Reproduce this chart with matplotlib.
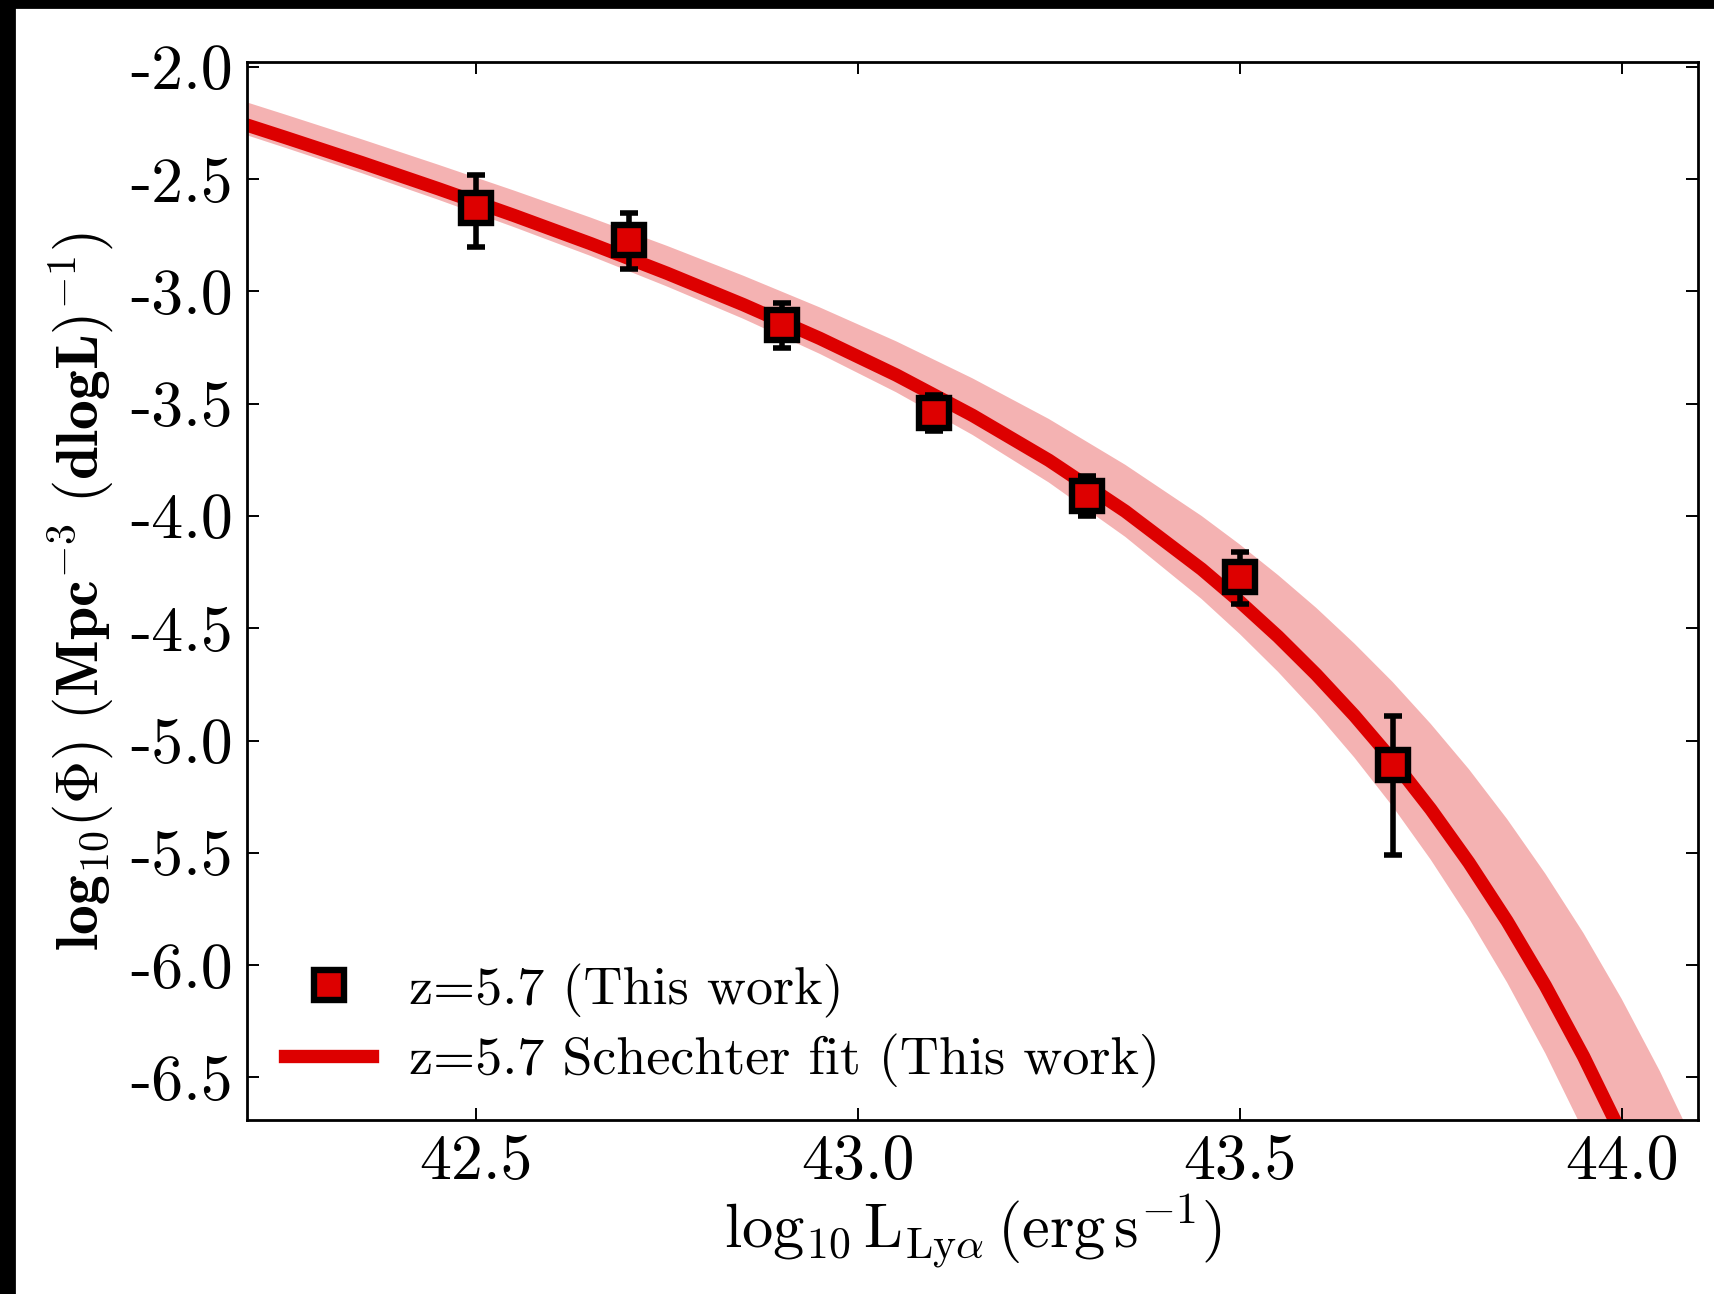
import numpy as np
import matplotlib
matplotlib.use('Agg')
import matplotlib.pyplot as plt
from matplotlib.patches import Rectangle

plt.rcParams['font.family'] = 'serif'
plt.rcParams['font.serif'] = ['cmr10']
plt.rcParams['mathtext.fontset'] = 'cm'
plt.rcParams['axes.unicode_minus'] = False

# binned LF points (z=5.7)
logL = [42.5, 42.7, 42.9, 43.1, 43.3, 43.5, 43.7]
logphi = [-2.63, -2.77, -3.15, -3.54, -3.91, -4.27, -5.11]
err_lo = [0.17, 0.13, 0.10, 0.08, 0.09, 0.12, 0.40]
err_hi = [0.15, 0.12, 0.10, 0.08, 0.09, 0.11, 0.22]

# Schechter fit + 1 sigma band
fit_x = [42.15, 42.25, 42.35, 42.45, 42.55, 42.65, 42.75, 42.85, 42.95, 43.05,
         43.15, 43.25, 43.35, 43.45, 43.5, 43.55, 43.6, 43.65, 43.7, 43.75,
         43.8, 43.85, 43.9, 43.95, 44.0, 44.05, 44.1, 44.15]
fit_mid = [-2.204, -2.314, -2.426, -2.542, -2.662, -2.787, -2.919, -3.059, -3.209, -3.372,
           -3.552, -3.752, -3.979, -4.237, -4.382, -4.537, -4.706, -4.889, -5.088, -5.306,
           -5.544, -5.805, -6.092, -6.407, -6.755, -7.140, -7.565, -8.036]
fit_hi = [-2.104, -2.212, -2.322, -2.435, -2.551, -2.671, -2.797, -2.930, -3.071, -3.222,
          -3.387, -3.568, -3.772, -4.000, -4.127, -4.263, -4.409, -4.568, -4.739, -4.926,
          -5.128, -5.350, -5.593, -5.858, -6.151, -6.473, -6.828, -7.221]
fit_lo = [-2.249, -2.360, -2.473, -2.591, -2.714, -2.842, -2.978, -3.122, -3.278, -3.449,
          -3.639, -3.851, -4.093, -4.370, -4.526, -4.694, -4.877, -5.076, -5.293, -5.531,
          -5.792, -6.078, -6.393, -6.740, -7.124, -7.549, -8.019, -8.541]

xticks = [42.5, 43.0, 43.5, 44.0]
yticks = [-2.0, -2.5, -3.0, -3.5, -4.0, -4.5, -5.0, -5.5, -6.0, -6.5]

red = '#dd0000'

fig = plt.figure(figsize=(8.57, 6.47), dpi=200)
ax = fig.add_axes([0.1441, 0.1345, 0.8466, 0.8176])

ax.fill_between(fit_x, fit_lo, fit_hi, color=red, alpha=0.3, lw=0, zorder=1)
ax.plot(fit_x, fit_mid, color=red, lw=4.8, zorder=2,
        label='z=5.7 Schechter fit (This work)')
ax.errorbar(logL, logphi, yerr=[err_lo, err_hi], fmt='none', ecolor='k',
            elinewidth=2.0, capsize=3.2, capthick=2.0, zorder=3)
ax.plot(logL, logphi, 's', color=red, ms=10.6, mec='k', mew=2.3, zorder=4,
        label='z=5.7 (This work)')

ax.set_xlim(42.2, 44.1)
ax.set_ylim(-6.69, -1.978)
ax.set_xticks(xticks)
ax.set_xticklabels(['%.1f' % t for t in xticks])
ax.set_yticks(yticks)
ax.set_yticklabels(['%.1f' % t for t in yticks])
ax.tick_params(direction='in', length=4.3, width=0.7, top=True, right=True,
               labelsize=23, pad=5)
for s in ax.spines.values():
    s.set_linewidth(1.0)

ax.set_xlabel(r'$\mathrm{log_{10}\,L_{Ly\alpha}\,(erg\,s^{-1})}$', fontsize=22.5, labelpad=0)
ax.set_ylabel(r'$\mathbf{log}_{10}\mathbf{(}\Phi\mathbf{)\ (Mpc}^{-3}\ \mathbf{(dlogL)}^{-1}\mathbf{)}$',
              fontsize=21.5, labelpad=5)

h, l = ax.get_legend_handles_labels()
ax.legend(h[::-1], l[::-1], loc='lower left', bbox_to_anchor=(0.026, 0.03),
          frameon=False, fontsize=19.5, borderpad=0, borderaxespad=0,
          handlelength=1.62, handletextpad=0.67, labelspacing=0.3, numpoints=1)

# black border strips of the original screenshot
fig.patches.append(Rectangle((0, 0), 0.0082, 1, transform=fig.transFigure, color='k', zorder=10))
fig.patches.append(Rectangle((0, 1 - 0.0054), 1, 0.0054, transform=fig.transFigure, color='k', zorder=10))

fig.savefig('out.png', dpi=200)
